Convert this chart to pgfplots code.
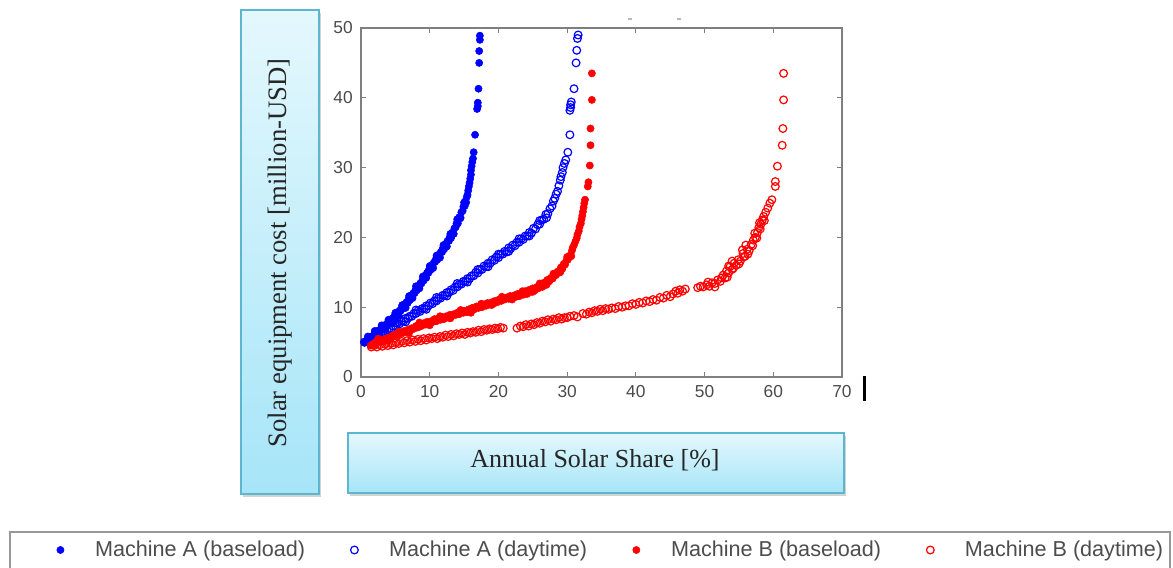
\documentclass[border=0pt]{standalone}
\usepackage{fontspec}
\setmainfont{Liberation Serif}
\newfontfamily\arialfont{Liberation Sans}
\usepackage{pgfplots}
\pgfplotsset{compat=1.18}
\usetikzlibrary{shadows}
\definecolor{boxtop}{HTML}{E4F8FD}
\definecolor{boxbot}{HTML}{A6E5F8}
\definecolor{boxedge}{HTML}{5DB6D0}
\definecolor{axgray}{HTML}{7F7F7F}
\definecolor{tickgray}{HTML}{4A4A4A}
\definecolor{leggray}{HTML}{4D4D4D}
\definecolor{mblue}{HTML}{0000FF}
\definecolor{mred}{HTML}{FF0000}
\pgfplotsset{
  dotleg/.style={legend image code/.code={\path[draw=none,fill=none] (0pt,0pt) rectangle (17pt,0.1pt); \draw[##1, only marks] plot coordinates {(8.5pt,0pt)};}},
}
\begin{document}
\begin{tikzpicture}
\useasboundingbox (0,0) rectangle (879.75pt,425.25pt);
\begin{scope}[x=0.75pt,y=0.75pt]
 % y label box
 \draw[draw=boxedge, line width=1.1pt, top color=boxtop, bottom color=boxbot,
       drop shadow={shadow xshift=1.5pt, shadow yshift=-2.2pt, opacity=0.35}] (241,73) rectangle (319,557);
 \node[rotate=90, text=black!85, font=\fontsize{20}{22}\selectfont] at (280,314) {Solar equipment cost [million-USD]};
 % x label box
 \draw[draw=boxedge, line width=1.1pt, top color=boxtop, bottom color=boxbot,
       drop shadow={shadow xshift=1.5pt, shadow yshift=-2.2pt, opacity=0.35}] (348,74) rectangle (844,134);
 \node[text=black!85, font=\fontsize{19.5}{22}\selectfont] at (595,107) {Annual Solar Share [\%]};
 % legend frame
 \draw[draw=gray!80, line width=1.4pt, fill=white] (10,-3) rectangle (1170,35);
 % stray marks of the original
 \draw[black, line width=2.5pt] (864.3,191) -- (864.3,165.5);
 \draw[gray!55, line width=0.8pt] (628,548) -- (632,548);
 \draw[gray!55, line width=0.8pt] (677,548) -- (681,548);
\end{scope}
\begin{axis}[
  at={(270.75pt,142.5pt)}, anchor=south west,
  scale only axis, width=360.75pt, height=261.75pt,
  xmin=0, xmax=70, ymin=0, ymax=50,
  xtick={0,10,...,70}, ytick={0,10,...,50},
  tick align=inside, xtick pos=both, ytick pos=both,
  major tick length=4pt,
  axis line style={draw=axgray, line width=0.9pt},
  tick style={draw=axgray, line width=0.8pt},
  /pgf/number format/assume math mode=true,
  tick label style={font=\arialfont\fontsize{13}{15}\selectfont, text=tickgray, inner sep=0pt},
  xticklabel style={yshift=-6pt},
  yticklabel style={xshift=-6pt},
  legend columns=4,
  legend style={draw=none, fill=none, at={(-0.649,-0.4957)}, anchor=west, inner sep=0pt,
    font=\arialfont\fontsize{16.2}{18}\selectfont, text=leggray,
    nodes={inner sep=0pt},
    /tikz/every odd column/.append style={column sep=17.5pt},
    /tikz/every even column/.append style={column sep=28.4pt}},
]
\addplot[only marks, mark=*, mark size=2.7pt, color=mblue, mark options={draw=mblue, fill=mblue}, dotleg] coordinates {
(0.5,4.9)(0.7,5.1)(0.9,5.2)(1.1,5.4)(1.2,5.2)(1.4,5.6)(1.6,5.8)(1.7,5.6)(1.9,6.1)(2.1,6.1)(2.2,6.4)(2.4,6.3)(2.6,6.7)(2.7,6.5)(2.9,6.9)(3.1,7.0)(3.2,7.3)(3.4,7.1)(3.6,7.5)(3.7,7.3)(3.9,7.8)(4.1,7.7)(4.2,8.1)(4.4,8.0)(4.6,8.4)(4.7,8.2)(4.9,8.8)(5.1,8.7)(5.2,9.1)(5.4,9.0)(5.6,9.5)(5.8,9.5)(5.9,9.9)(6.1,9.8)(6.3,10.4)(6.4,10.1)(6.6,10.7)(6.8,10.6)(6.9,11.1)(7.1,11.0)(7.3,11.6)(7.4,11.4)(7.6,12.0)(7.8,12.0)(7.9,12.4)(8.1,12.4)(8.3,12.9)(8.4,12.8)(8.6,13.4)(8.8,13.4)(8.9,13.8)(9.1,13.8)(9.3,14.5)(9.4,14.2)(9.6,14.9)(9.8,14.9)(9.9,15.4)(10.1,15.3)(10.3,16.0)(10.4,15.8)(10.6,16.4)(10.8,16.5)(10.9,16.9)(11.1,16.8)(11.3,17.5)(11.4,17.3)(11.6,17.9)(11.8,17.9)(11.9,18.4)(12.1,18.3)(12.3,19.0)(12.4,18.8)(12.6,19.5)(12.8,19.5)(12.9,20.0)(13.1,19.9)(13.3,20.7)(13.4,20.5)(13.6,21.3)(13.8,21.5)(13.9,22.0)(14.1,22.0)(14.3,22.9)(14.4,22.7)(14.6,23.6)(14.8,23.8)(14.9,24.4)(15.1,24.5)(15.2,25.2)(15.3,25.0)(15.4,25.8)(15.5,26.1)(15.6,26.7)(15.7,27.3)(15.8,27.8)(15.9,28.4)(16.0,29.0)(16.0,29.6)(16.1,30.2)(16.2,30.8)(16.3,31.3)(16.4,32.2)(16.6,34.7)(16.9,38.4)(17.0,38.8)(17.0,39.3)(17.1,41.3)(17.2,45.0)(17.2,46.7)(17.3,48.3)(17.3,48.9)
(1,5.8)(1.5,5.2)(2,6.6)(2.5,6.0)(3,7.4)(3.5,6.8)(4,8.2)(4.5,7.7)(5,9.2)(5.5,8.8)(6,10.3)(6.5,9.9)(7,11.6)(7.5,11.3)(8,13.0)(8.5,12.7)(9,14.4)(9.5,14.2)(10,15.9)(10.5,15.6)(11,17.4)(11.5,17.1)(12,18.9)(12.5,18.7)(13,20.5)(13.5,20.5)(14,22.6)(14.5,22.8)(15,25.0)
};
\addlegendentry{Machine A (baseload)}
\addplot[only marks, mark=o, mark size=2.9pt, color=mblue, mark options={line width=0.9pt}, dotleg] coordinates {
(0.5,5.0)(0.8,5.1)(1.1,5.4)(1.4,5.3)(1.7,5.6)(2.0,5.6)(2.3,5.9)(2.6,5.9)(2.9,6.2)(3.2,6.2)(3.5,6.6)(3.8,6.6)(4.1,6.9)(4.4,6.9)(4.7,7.3)(5.0,7.3)(5.3,7.7)(5.6,7.6)(5.9,8.0)(6.2,8.0)(6.5,8.4)(6.8,8.4)(7.1,8.7)(7.4,8.7)(7.7,9.1)(8.0,9.1)(8.3,9.5)(8.6,9.4)(8.9,9.8)(9.2,9.8)(9.5,10.2)(9.8,10.2)(10.1,10.6)(10.4,10.5)(10.7,10.9)(11.0,10.9)(11.3,11.3)(11.6,11.3)(11.9,11.7)(12.2,11.7)(12.5,12.1)(12.8,12.1)(13.1,12.5)(13.4,12.4)(13.7,12.9)(14.0,12.9)(14.3,13.3)(14.6,13.3)(14.9,13.7)(15.2,13.7)(15.5,14.1)(15.8,14.1)(16.1,14.5)(16.4,14.5)(16.7,15.0)(17.0,14.9)(17.3,15.4)(17.6,15.4)(17.9,15.9)(18.2,15.8)(18.5,16.3)(18.8,16.3)(19.1,16.8)(19.4,16.7)(19.7,17.2)(20.0,17.1)(20.3,17.6)(20.6,17.6)(20.9,18.0)(21.2,17.9)(21.5,18.5)(21.8,18.4)(22.1,18.9)(22.4,18.8)(22.7,19.3)(23.0,19.3)(23.3,19.8)(23.6,19.7)(23.9,20.2)(24.2,20.2)(24.5,20.7)(24.8,20.6)(25.1,21.3)(25.4,21.2)(25.7,21.8)(26.0,21.9)(26.3,22.5)(26.6,22.6)(26.9,23.3)(27.2,23.4)(27.5,24.1)(27.8,24.5)(28.0,25.2)(28.2,25.6)(28.4,26.2)(28.6,26.6)(28.8,27.4)(29.0,28.2)(29.1,28.7)(29.3,29.3)(29.4,30.0)(29.6,30.6)(29.8,31.1)(30.1,32.2)(30.4,34.7)(30.4,38.2)(30.5,38.6)(30.5,39.0)(30.6,39.4)(31.0,41.3)(31.3,45.0)(31.4,46.8)(31.5,48.5)(31.6,49.0)
(2,6.1)(3.5,6.2)(5,7.8)(6.5,7.9)(8,9.6)(9.5,9.7)(11,11.4)(12.5,11.6)(14,13.4)(15.5,13.6)(17,15.4)(18.5,15.8)(20,17.6)(21.5,18.0)(23,19.8)(24.5,20.2)(26,22.4)(27,22.8)
};
\addlegendentry{Machine A (daytime)}
\addplot[only marks, mark=*, mark size=2.7pt, color=mred, mark options={draw=mred, fill=mred}, dotleg] coordinates {
(1.4,4.5)(1.7,4.7)(2.0,4.9)(2.2,4.7)(2.5,5.1)(2.8,5.0)(3.0,5.3)(3.3,5.2)(3.6,5.5)(3.9,5.4)(4.1,5.7)(4.4,5.6)(4.7,6.0)(5.0,5.9)(5.2,6.2)(5.5,6.1)(5.8,6.4)(6.1,6.3)(6.3,6.6)(6.6,6.5)(6.9,6.8)(7.2,6.7)(7.4,7.0)(7.7,6.9)(8.0,7.3)(8.3,7.1)(8.5,7.5)(8.8,7.3)(9.1,7.7)(9.4,7.5)(9.6,7.9)(9.9,7.7)(10.2,8.0)(10.5,7.9)(10.7,8.3)(11.0,8.0)(11.3,8.4)(11.6,8.2)(11.8,8.6)(12.1,8.3)(12.4,8.7)(12.7,8.5)(12.9,8.9)(13.2,8.7)(13.5,9.0)(13.8,8.9)(14.0,9.2)(14.3,9.0)(14.6,9.4)(14.9,9.2)(15.1,9.5)(15.4,9.3)(15.7,9.7)(16.0,9.5)(16.2,9.9)(16.5,9.7)(16.8,10.1)(17.1,9.9)(17.3,10.2)(17.6,10.0)(17.9,10.4)(18.2,10.2)(18.4,10.6)(18.7,10.4)(19.0,10.7)(19.3,10.5)(19.5,10.9)(19.8,10.7)(20.1,11.1)(20.4,10.9)(20.6,11.3)(20.9,11.1)(21.2,11.4)(21.5,11.2)(21.7,11.6)(22.0,11.3)(22.3,11.7)(22.6,11.5)(22.8,11.9)(23.1,11.6)(23.4,12.0)(23.7,11.8)(23.9,12.3)(24.2,11.9)(24.5,12.5)(24.8,12.2)(25.0,12.7)(25.3,12.4)(25.6,12.9)(25.8,12.7)(26.1,13.2)(26.4,12.9)(26.6,13.5)(26.9,13.4)(27.1,13.9)(27.4,13.7)(27.6,14.2)(27.9,14.1)(28.1,14.6)(28.4,14.6)(28.6,15.1)(28.9,15.1)(29.1,15.7)(29.3,15.5)(29.5,16.2)(29.7,16.1)(29.9,16.7)(30.1,16.8)(30.3,17.3)(30.5,17.5)(30.7,18.1)(30.8,18.5)(31.0,18.9)(31.2,19.4)(31.4,19.9)(31.5,20.4)(31.7,20.9)(31.8,21.5)(32.0,22.0)(32.1,22.6)(32.2,23.1)(32.3,23.7)(32.4,24.3)(32.5,24.9)(32.6,25.4)(33.0,27.3)(33.1,27.9)(33.3,30.3)(33.4,33.2)(33.4,35.6)(33.6,39.7)(33.6,43.5)
(2.5,5.5)(4,5.2)(5.5,6.5)(7,6.3)(8.5,7.8)(10,7.4)(11.5,8.7)(13,8.4)(14.5,9.6)(16,9.2)(17.5,10.5)(19,10.3)(20.5,11.5)(22,11.1)(23.5,12.3)(25,12.2)(26,13.4)(27,13.2)(28,14.8)(29,15.0)(30,17.2)(30.6,17.3)
};
\addlegendentry{Machine B (baseload)}
\addplot[only marks, mark=o, mark size=2.9pt, color=mred, mark options={line width=0.9pt}, dotleg] coordinates {
(1.5,4.3)(1.9,4.5)(2.3,4.3)(2.7,4.6)(3.1,4.4)(3.5,4.7)(3.9,4.5)(4.3,4.8)(4.7,4.6)(5.1,4.9)(5.5,4.8)(5.9,5.1)(6.3,4.9)(6.7,5.2)(7.1,5.0)(7.5,5.3)(7.9,5.1)(8.3,5.4)(8.7,5.2)(9.1,5.5)(9.5,5.3)(9.9,5.6)(10.3,5.5)(10.7,5.7)(11.1,5.5)(11.5,5.8)(11.9,5.7)(12.3,6.0)(12.7,5.8)(13.1,6.1)(13.5,5.9)(13.9,6.2)(14.3,6.1)(14.7,6.3)(15.1,6.1)(15.5,6.4)(15.9,6.3)(16.3,6.5)(16.7,6.4)(17.1,6.7)(17.5,6.5)(17.9,6.8)(18.3,6.7)(18.7,6.9)(19.1,6.8)(19.5,7.0)(19.9,6.9)(20.3,7.1)(20.7,7.0)(22.7,7.0)(23.2,7.3)(23.6,7.2)(24.0,7.5)(24.4,7.3)(24.8,7.6)(25.2,7.5)(25.6,7.8)(26.0,7.7)(26.4,8.0)(26.8,7.9)(27.2,8.2)(27.6,8.0)(28.0,8.3)(28.4,8.2)(28.8,8.5)(29.2,8.3)(29.6,8.5)(30.0,8.5)(30.4,8.7)(31.0,8.8)(31.5,8.6)(32.3,9.1)(32.8,9.0)(33.2,9.3)(33.6,9.2)(34.0,9.5)(34.4,9.4)(34.8,9.7)(35.2,9.5)(35.6,9.8)(36.0,9.7)(36.5,9.9)(37.0,9.8)(37.5,10.1)(38.0,10.0)(38.5,10.2)(39.0,10.2)(39.5,10.5)(40.0,10.4)(40.5,10.7)(41.0,10.6)(41.5,10.9)(42.0,10.8)(42.5,11.1)(43.0,11.0)(43.5,11.4)(44.0,11.3)(44.5,11.7)(45.0,11.5)(45.4,11.9)(45.8,12.3)(46.1,12.0)(46.4,12.5)(46.8,12.3)(47.2,12.6)(49.0,12.8)(49.4,13.0)(49.8,12.9)(50.3,13.2)(50.7,13.0)(51.1,13.5)(51.5,13.4)(51.9,13.9)(52.3,13.7)(52.7,14.6)(53.0,14.2)(53.2,15.2)(53.5,14.9)(53.7,15.8)(54.0,15.4)(54.3,16.3)(54.6,16.0)(54.9,16.8)(55.2,16.6)(55.6,17.7)(55.9,17.3)(56.2,18.3)(56.5,18.1)(56.8,19.0)(57.1,19.6)(57.4,20.0)(57.7,20.7)(57.9,21.4)(58.2,21.9)(58.4,22.5)(58.6,23.0)(58.9,23.6)(59.2,24.2)(59.5,24.9)(59.8,25.4)(60.3,27.3)(60.3,28.0)(60.6,30.2)(61.3,33.2)(61.4,35.6)(61.5,39.7)(61.5,43.5)
(50.5,13.6)(51.5,12.9)(52.5,14.2)(53.3,14.3)(53.5,15.9)(54.2,15.6)(54.0,16.6)(55.0,16.2)(55.5,18.2)(55.7,17.2)(56.0,18.9)(56.3,17.6)(57.0,18.8)(57.3,20.6)(57.6,19.9)(58.0,22.1)(58.1,21.2)(58.7,22.4)
};
\addlegendentry{Machine B (daytime)}
\end{axis}
\end{tikzpicture}
\end{document}
